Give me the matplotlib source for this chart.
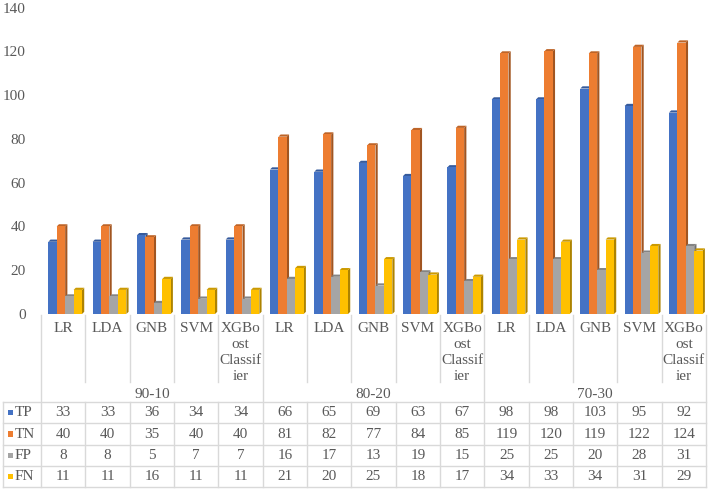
import matplotlib
matplotlib.use('Agg')
import matplotlib.pyplot as plt
from matplotlib.patches import Polygon
from matplotlib.lines import Line2D
import matplotlib.colors as mcolors

groups = ['90-10', '80-20', '70-30']
models = ['LR', 'LDA', 'GNB', 'SVM', 'XGBoost Classifier']
model_lines = [['LR'], ['LDA'], ['GNB'], ['SVM'], ['XGBo', 'ost', 'Classif', 'ier']]
series = ['TP', 'TN', 'FP', 'FN']
TP = [33, 33, 36, 34, 34, 66, 65, 69, 63, 67, 98, 98, 103, 95, 92]
TN = [40, 40, 35, 40, 40, 81, 82, 77, 84, 85, 119, 120, 119, 122, 124]
FP = [8, 8, 5, 7, 7, 16, 17, 13, 19, 15, 25, 25, 20, 28, 31]
FN = [11, 11, 16, 11, 11, 21, 20, 25, 18, 17, 34, 33, 34, 31, 29]
values = [TP, TN, FP, FN]
colors = ['#4472C4', '#ED7D31', '#A5A5A5', '#FFC000']

W, H = 708, 490
FONT = ['Liberation Serif', 'DejaVu Serif']
TXT = '#595959'
GRID = '#D9D9D9'
FS = 11

fig = plt.figure(figsize=(W / 100, H / 100), dpi=100)

x_left, x_right = 41, 706
y_zero, y_top = 314, 7.5
ax = fig.add_axes([x_left / W, 1 - y_zero / H, (x_right - x_left) / W, (y_zero - y_top) / H])
ncat = len(TP)
ax.set_xlim(0, ncat)
ax.set_ylim(0, 140)
for sp in ax.spines.values():
    sp.set_visible(False)
ax.set_xticks([])
ax.set_yticks(range(0, 141, 20))
ax.tick_params(axis='y', length=0, pad=11, labelcolor=TXT)
for lab in ax.get_yticklabels():
    lab.set_fontfamily(FONT)
    lab.set_fontsize(FS)
ax.patch.set_alpha(0)


def shade(c, f):
    r, g, b = mcolors.to_rgb(c)
    return (r * f, g * f, b * f)


bw = 0.19
off = 0.165
dx = 0.05
dy = 1.0
z = 2
for i in range(ncat):
    for s in range(4):
        h = values[s][i]
        x0 = i + off + s * bw
        c = colors[s]
        front = Polygon([(x0, 0), (x0 + bw, 0), (x0 + bw, h), (x0, h)], closed=True,
                        facecolor=c, edgecolor='none', zorder=z)
        side = Polygon([(x0 + bw, 0), (x0 + bw + dx, dy), (x0 + bw + dx, h + dy), (x0 + bw, h)],
                       closed=True, facecolor=shade(c, 0.68), edgecolor='none', zorder=z)
        top = Polygon([(x0, h), (x0 + dx, h + dy), (x0 + bw + dx, h + dy), (x0 + bw, h)],
                      closed=True, facecolor=shade(c, 0.8), edgecolor='none', zorder=z)
        for p in (side, top, front):
            ax.add_patch(p)
        z += 1

# overlay for the table
ov = fig.add_axes([0, 0, 1, 1])
ov.set_xlim(0, W)
ov.set_ylim(H, 0)
ov.axis('off')
ov.patch.set_alpha(0)

cw = (x_right - x_left) / ncat
cb = [x_left + k * cw for k in range(ncat + 1)]
row_lines = [402, 423, 445, 466, 487]
lab_top = 315

for k in range(ncat + 1):
    if k % 5 == 0:
        ov.add_line(Line2D([cb[k], cb[k]], [lab_top, row_lines[-1]], color=GRID, lw=1))
    else:
        ov.add_line(Line2D([cb[k], cb[k]], [lab_top, 382], color=GRID, lw=1))
        ov.add_line(Line2D([cb[k], cb[k]], [row_lines[0], row_lines[-1]], color=GRID, lw=1))
ov.add_line(Line2D([3, 3], [row_lines[0], row_lines[-1]], color=GRID, lw=1))
for y in row_lines:
    ov.add_line(Line2D([3, x_right], [y, y], color=GRID, lw=1))

# category labels
for i in range(ncat):
    cx = (cb[i] + cb[i + 1]) / 2
    for j, line in enumerate(model_lines[i % 5]):
        ov.text(cx, 328 + 16 * j, line, ha='center', va='center', fontsize=FS,
                family=FONT, color=TXT)
for g, name in enumerate(groups):
    cx = (cb[g * 5] + cb[g * 5 + 5]) / 2
    ov.text(cx, 394, name, ha='center', va='center', fontsize=FS, family=FONT, color=TXT)

# data rows
row_c = [412.5, 434, 455.5, 476.5]
for s in range(4):
    yc = row_c[s]
    ov.add_patch(plt.Rectangle((7.5, yc - 2.8), 5.5, 5.5, facecolor=colors[s], edgecolor='none'))
    ov.text(14.5, yc, series[s], ha='left', va='center', fontsize=FS, family=FONT, color=TXT)
    for i in range(ncat):
        cx = (cb[i] + cb[i + 1]) / 2
        ov.text(cx, yc, str(values[s][i]), ha='center', va='center', fontsize=FS,
                family=FONT, color=TXT)

fig.savefig('out.png', dpi=100, facecolor='white')
